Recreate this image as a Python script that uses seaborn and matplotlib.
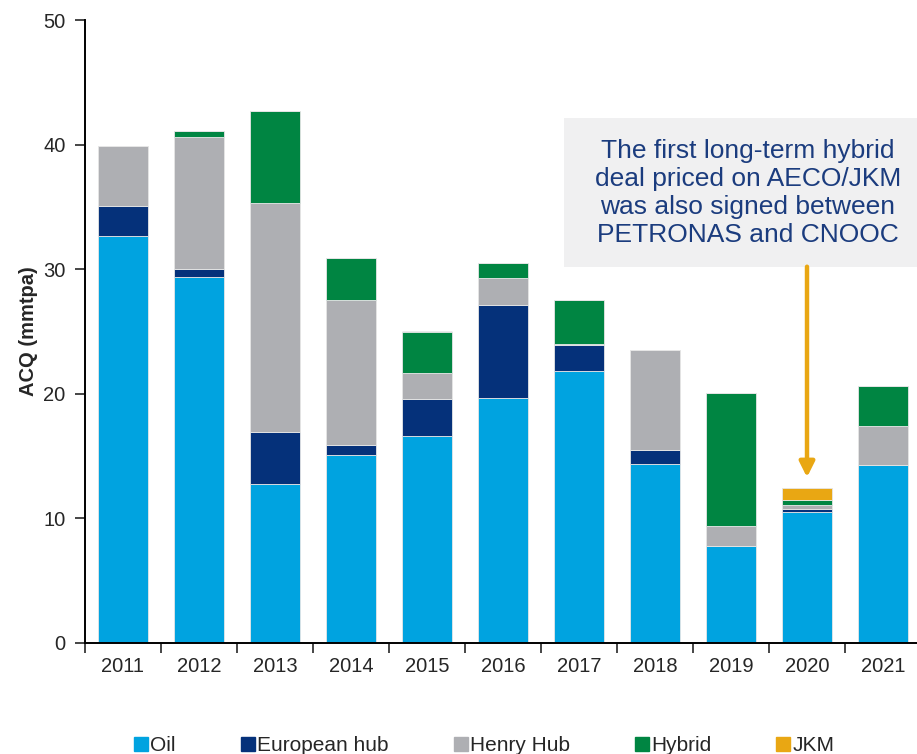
"""Stacked ACQ bars by pricing index, 2011-2021."""

import matplotlib
matplotlib.use("Agg")
import matplotlib.pyplot as plt
from matplotlib.lines import Line2D
from matplotlib.patches import Rectangle
import numpy as np
import seaborn as sns

years = ["2011", "2012", "2013", "2014", "2015", "2016", "2017", "2018", "2019", "2020", "2021"]
oil = [32.7, 29.4, 12.8, 15.1, 16.6, 19.7, 21.8, 14.4, 7.8, 10.5, 14.3]
european_hub = [2.4, 0.6, 4.1, 0.8, 3.0, 7.4, 2.1, 1.1, 0.0, 0.25, 0.0]
henry_hub = [4.8, 10.6, 18.4, 11.6, 2.1, 2.2, 0.1, 8.0, 1.6, 0.3, 3.1]
hybrid = [0.0, 0.5, 7.4, 3.4, 3.3, 1.2, 3.5, 0.0, 10.7, 0.4, 3.2]
jkm = [0.0, 0.0, 0.0, 0.0, 0.0, 0.0, 0.0, 0.0, 0.0, 1.0, 0.0]

series_names = ["Oil", "European hub", "Henry Hub", "Hybrid", "JKM"]
series_values = [oil, european_hub, henry_hub, hybrid, jkm]
series_colors = ["#00A3E0", "#05317A", "#AEAFB3", "#008542", "#E9A713"]

note = "The first long-term hybrid\ndeal priced on AECO/JKM\nwas also signed between\nPETRONAS and CNOOC"

sns.set_style("ticks")
plt.rcParams["font.family"] = ["Liberation Sans", "DejaVu Sans"]

fig = plt.figure(figsize=(9.17, 7.54), dpi=100)
ax = fig.add_axes([85 / 917, 111 / 754, 836 / 917, 623 / 754])

bottom = np.zeros(len(years))
for name, vals, color in zip(series_names, series_values, series_colors):
    sns.barplot(x=years, y=vals, bottom=bottom, color=color, width=0.66,
                edgecolor="#E6E6E6", linewidth=0.6, ax=ax, saturation=1)
    bottom = bottom + np.array(vals)

ax.set_ylim(0, 50)
ax.set_xlim(-0.5, 10.5)
ax.set_yticks([0, 10, 20, 30, 40, 50])
ax.set_ylabel("ACQ (mmtpa)", fontsize=14.5, fontweight="bold", labelpad=4)
ax.set_xlabel("")
ax.tick_params(axis="y", labelsize=14.5, length=7, width=1.2, direction="out", pad=7)
ax.tick_params(axis="x", which="major", labelsize=14.5, length=0, pad=10)
ax.set_xticks(np.arange(-0.5, 11, 1), minor=True)
ax.tick_params(axis="x", which="minor", length=7, width=1.2, direction="out")
for side in ["top", "right"]:
    ax.spines[side].set_visible(False)
for side in ["left", "bottom"]:
    ax.spines[side].set_linewidth(1.4)
    ax.spines[side].set_color("black")

# annotation box and arrow for 2020
ax.add_patch(Rectangle((5.8, 30.2), 5.0, 11.9, facecolor="#F0F0F1", edgecolor="none",
                       zorder=1, clip_on=True))
ax.text(8.22, 36.1, note, ha="center", va="center", fontsize=19, color="#1B3C7E",
        linespacing=1.2, zorder=3)
ax.annotate("", xy=(9, 13.3), xytext=(9, 30.2),
            arrowprops=dict(arrowstyle="-|>,head_width=0.45,head_length=0.9",
                            color="#E9A713", lw=3.2, shrinkA=0, shrinkB=0))

handles = [Line2D([], [], marker="s", linestyle="none", markersize=10,
                  markerfacecolor=c, markeredgecolor=c) for c in series_colors]
fig.legend(handles, series_names, loc="center", bbox_to_anchor=(0.528, 0.011), ncol=5,
           frameon=False, fontsize=15, handletextpad=0.1, columnspacing=3.1,
           handlelength=0.7)

fig.savefig("out.png", dpi=100)
